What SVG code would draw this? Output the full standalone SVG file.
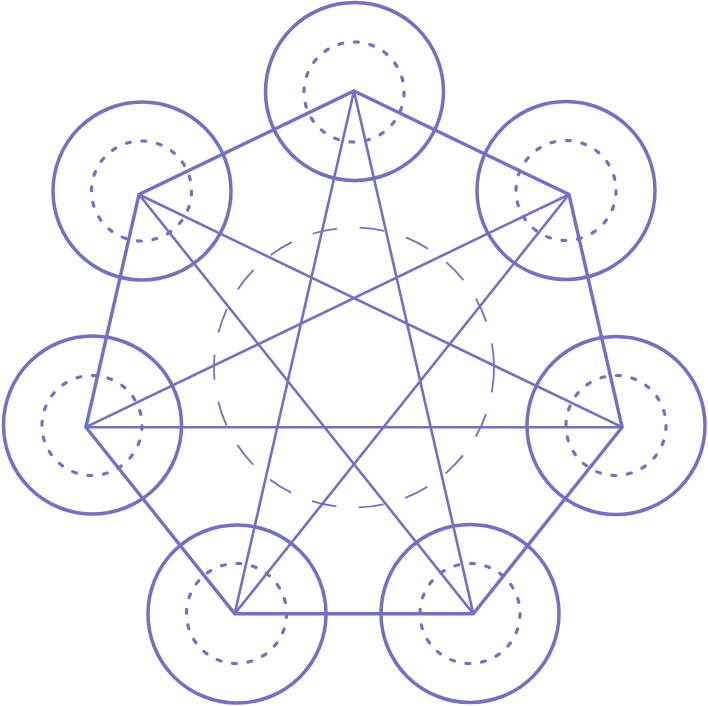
<svg xmlns="http://www.w3.org/2000/svg" width="708" height="706" viewBox="0 0 708 706">
<style>
.outer{fill:none;stroke:#7470c5;stroke-width:3.5}
.inner{fill:none;stroke:#7470c5;stroke-width:3.2;stroke-linecap:round;stroke-dasharray:4 11.708}
.hub{fill:none;stroke:#7470c5;stroke-width:1.8;stroke-dasharray:25 22.5}
.edge{stroke:#7470c5;stroke-width:3.4;stroke-linecap:round;fill:none}
.star{stroke:#7470c5;stroke-width:2.6;stroke-linecap:round;fill:none}
</style>
<rect width="708" height="706" fill="#ffffff"/>
<circle id="hub" class="hub" cx="354" cy="367.5" r="140"/>
<g id="connectors">
<polygon class="edge" points="354,91 569,194.5 622.1,427.2 473.3,613.8 234.7,613.8 85.9,427.2 139,194.5" stroke-linejoin="miter"/>
<polygon class="star" points="354,91 473.3,613.8 139,194.5 622.1,427.2 85.9,427.2 569,194.5 234.7,613.8"/>
</g>
<g id="node-top"><circle class="outer" cx="354.5" cy="91.5" r="89"/><circle class="inner" cx="354" cy="92" r="50"/></g>
<g id="node-upper-right"><circle class="outer" cx="566" cy="190.5" r="89"/><circle class="inner" cx="566" cy="190.5" r="50"/></g>
<g id="node-right"><circle class="outer" cx="616" cy="425.5" r="89"/><circle class="inner" cx="616" cy="425.5" r="50"/></g>
<g id="node-lower-right"><circle class="outer" cx="470" cy="613.5" r="89"/><circle class="inner" cx="470" cy="613.5" r="50"/></g>
<g id="node-lower-left"><circle class="outer" cx="237" cy="614" r="89"/><circle class="inner" cx="236.5" cy="613.5" r="50"/></g>
<g id="node-left"><circle class="outer" cx="92.5" cy="425" r="89"/><circle class="inner" cx="92" cy="425.5" r="50"/></g>
<g id="node-upper-left"><circle class="outer" cx="142" cy="191" r="89"/><circle class="inner" cx="141.5" cy="191" r="50"/></g>
</svg>
